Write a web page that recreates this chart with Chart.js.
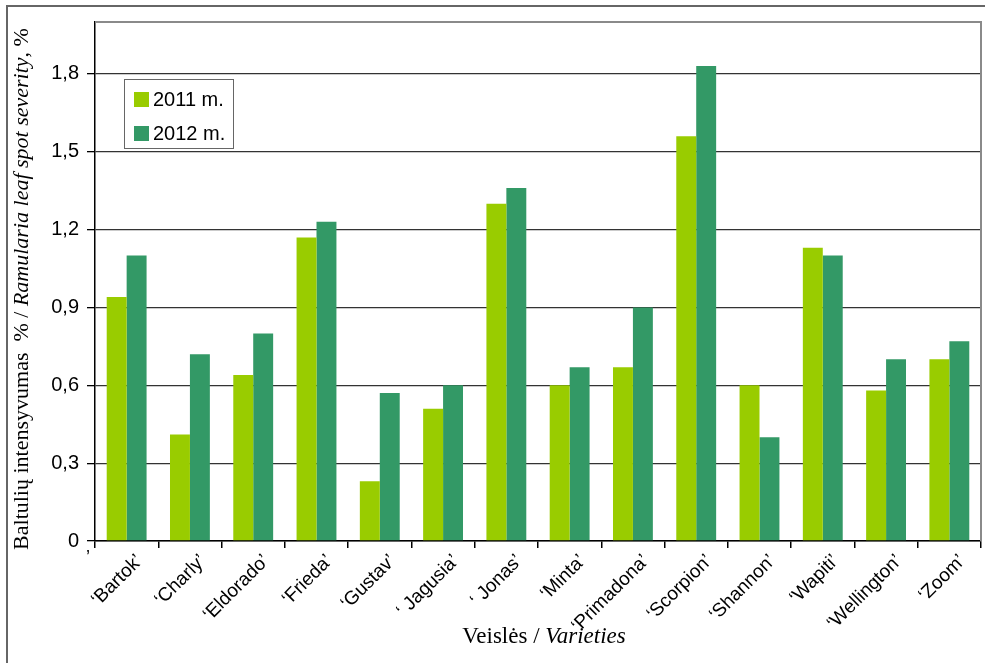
<!DOCTYPE html>
<html>
<head>
<meta charset="utf-8">
<script src="https://cdn.jsdelivr.net/npm/chart.js@4/dist/chart.umd.min.js"></script>
<style>
  html, body { margin: 0; padding: 0; background: #fff; }
  #wrap { width: 986px; height: 663px; position: relative; }
</style>
</head>
<body>
<div id="wrap"><canvas id="c" width="986" height="663"></canvas></div>
<script>
// Varieties and disease severity (%) per year
const varieties = ['‘Bartok’', '‘Charly’', '‘Eldorado’', '‘Frieda’', '‘Gustav’', '‘ Jagusia’', '‘ Jonas’',
                   '‘Minta’', '‘Primadona’', '‘Scorpion’', '‘Shannon’', '‘Wapiti’', '‘Wellington’', '‘Zoom’'];
const severity2011 = [0.94, 0.41, 0.64, 1.17, 0.23, 0.51, 1.30, 0.60, 0.67, 1.56, 0.60, 1.13, 0.58, 0.70];
const severity2012 = [1.10, 0.72, 0.80, 1.23, 0.57, 0.60, 1.36, 0.67, 0.90, 1.83, 0.40, 1.10, 0.70, 0.77];
const seriesLabels = ['2011 m.', '2012 m.'];
const seriesColors = ['#99cc00', '#339966'];
const yTicks = [0, 0.3, 0.6, 0.9, 1.2, 1.5, 1.8];
const yMax = 2.0;

const SANS = "'Liberation Sans', Arial, sans-serif";
const SERIF = "'Liberation Serif', 'Times New Roman', serif";

// Draws a line of text made of several runs with different font styles
function drawRuns(ctx, runs, x, y, align) {
  let total = 0;
  runs.forEach(r => { ctx.font = r.font; total += ctx.measureText(r.text).width; });
  let cx = align === 'center' ? x - total / 2 : x;
  runs.forEach(r => {
    ctx.font = r.font;
    ctx.fillText(r.text, cx, y);
    cx += ctx.measureText(r.text).width;
  });
}

const decorations = {
  id: 'decorations',
  afterDraw(chart) {
    const { ctx, chartArea: a } = chart;
    ctx.save();

    // plot frame (top and right)
    ctx.strokeStyle = '#8a8a8a';
    ctx.lineWidth = 2;
    ctx.beginPath();
    ctx.moveTo(a.left, a.top);
    ctx.lineTo(a.right, a.top);
    ctx.lineTo(a.right, a.bottom);
    ctx.stroke();

    // outer frame (top and left)
    ctx.strokeStyle = '#666';
    ctx.beginPath();
    ctx.moveTo(7, chart.height);
    ctx.lineTo(7, 6);
    ctx.lineTo(985, 6);
    ctx.stroke();

    // legend box
    const lx = a.left + 29, ly = a.top + 57, lw = 109, lh = 69;
    ctx.fillStyle = '#fff';
    ctx.fillRect(lx, ly, lw, lh);
    ctx.strokeStyle = '#666';
    ctx.lineWidth = 1;
    ctx.strokeRect(lx + 0.5, ly + 0.5, lw, lh);
    ctx.textBaseline = 'middle';
    ctx.textAlign = 'left';
    chart.data.datasets.forEach((ds, i) => {
      const rowY = ly + 20 + i * 34;
      ctx.fillStyle = ds.backgroundColor;
      ctx.fillRect(lx + 10, rowY - 7, 15, 15);
      ctx.fillStyle = '#000';
      ctx.font = '20px ' + SANS;
      ctx.fillText(ds.label, lx + 29, rowY + 1);
    });

    // stray quote mark before the first category label
    ctx.font = '18px ' + SANS;
    ctx.textAlign = 'center';
    ctx.fillText('’', a.left - 7, a.bottom + 17);

    // x-axis title
    ctx.textAlign = 'left';
    ctx.textBaseline = 'alphabetic';
    ctx.fillStyle = '#000';
    drawRuns(ctx, [
      { text: 'Veislės / ', font: '23px ' + SERIF },
      { text: 'Varieties', font: 'italic 23px ' + SERIF }
    ], (a.left + a.right) / 2 + 6, 643, 'center');

    // y-axis title
    ctx.translate(28, 289);
    ctx.rotate(-Math.PI / 2);
    drawRuns(ctx, [
      { text: 'Baltulių intensyvumas  % / ', font: '22px ' + SERIF },
      { text: 'Ramularia leaf spot severity', font: 'italic 22px ' + SERIF },
      { text: ', %', font: '22px ' + SERIF }
    ], 0, 0, 'center');

    ctx.restore();
  }
};

new Chart(document.getElementById('c'), {
  type: 'bar',
  data: {
    labels: varieties,
    datasets: [
      { label: seriesLabels[0], data: severity2011, backgroundColor: seriesColors[0] },
      { label: seriesLabels[1], data: severity2012, backgroundColor: seriesColors[1] }
    ]
  },
  options: {
    responsive: false,
    animation: false,
    devicePixelRatio: 1,
    layout: { padding: { top: 22, right: 5, left: 0, bottom: 0 } },
    datasets: { bar: { categoryPercentage: 0.63, barPercentage: 1.0, borderWidth: 0 } },
    plugins: { legend: { display: false }, tooltip: { enabled: false } },
    scales: {
      x: {
        afterFit(scale) { scale.height = 122; },
        grid: { offset: true, drawOnChartArea: false, drawTicks: true, tickLength: 7, color: '#000', tickColor: '#000', lineWidth: 1.5 },
        border: { display: true, color: '#000', width: 1.5 },
        ticks: {
          color: '#000',
          font: { family: SANS, size: 19 },
          maxRotation: 45, minRotation: 45,
          autoSkip: false,
          labelOffset: 13,
          padding: 2
        }
      },
      y: {
        min: 0,
        max: yMax,
        afterFit(scale) { scale.width = 95; },
        afterBuildTicks(scale) { scale.ticks = yTicks.map(v => ({ value: v })); },
        grid: { color: '#333', lineWidth: 1.3, tickLength: 8, tickColor: '#000' },
        border: { display: true, color: '#000', width: 1.5 },
        ticks: {
          color: '#000',
          font: { family: SANS, size: 20 },
          padding: 8,
          callback: v => (v === 0 ? '0' : v.toFixed(1).replace('.', ','))
        }
      }
    }
  },
  plugins: [decorations]
});
</script>
</body>
</html>
